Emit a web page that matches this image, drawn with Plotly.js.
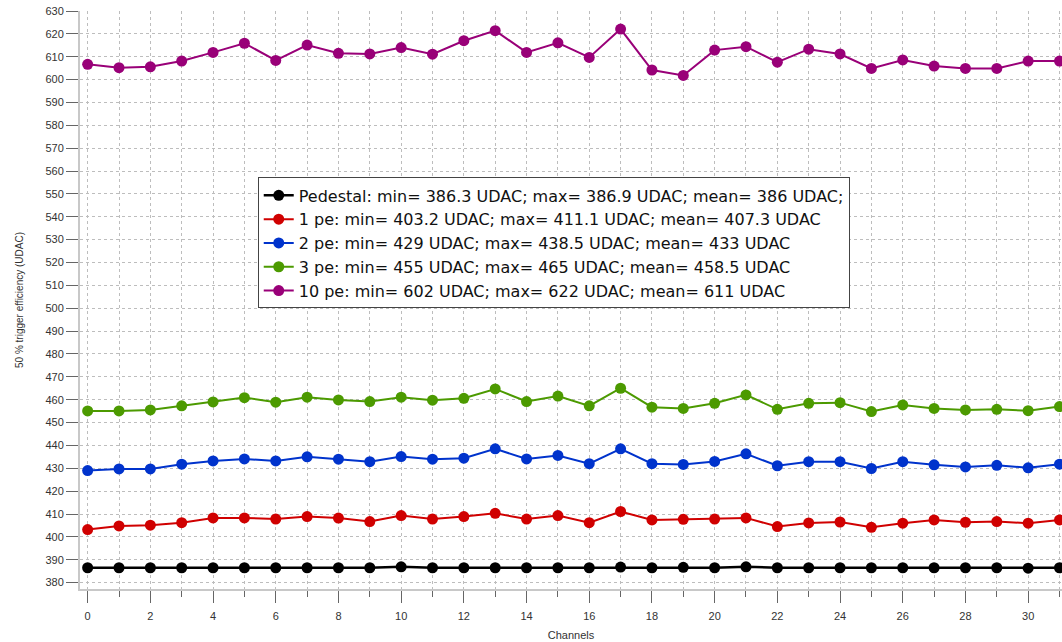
<!DOCTYPE html>
<html>
<head>
<meta charset="utf-8">
<script src="https://cdn.plot.ly/plotly-3.0.1.min.js"></script>
<style>
html,body{margin:0;padding:0;background:#fff;}
#chart{width:1062px;height:642px;}
</style>
</head>
<body>
<div id="chart"></div>
<script>
const channels = Array.from({length: 32}, (_, i) => i);

const seriesNames = [
  "Pedestal: min= 386.3 UDAC; max= 386.9 UDAC; mean= 386 UDAC;",
  "1 pe: min= 403.2 UDAC; max= 411.1 UDAC; mean= 407.3 UDAC",
  "2 pe: min= 429 UDAC; max= 438.5 UDAC; mean= 433 UDAC",
  "3 pe: min= 455 UDAC; max= 465 UDAC; mean= 458.5 UDAC",
  "10 pe: min= 602 UDAC; max= 622 UDAC; mean= 611 UDAC"
];

const pedestal = [386.5,386.5,386.5,386.5,386.5,386.5,386.5,386.5,386.5,386.5,386.9,386.5,386.5,386.5,386.5,386.5,386.5,386.8,386.5,386.7,386.5,386.9,386.5,386.5,386.5,386.5,386.5,386.5,386.5,386.5,386.3,386.5];
const pe1 = [403.2,404.8,405.1,406.2,408.3,408.3,407.8,408.9,408.2,406.7,409.3,407.8,408.9,410.3,407.8,409.3,406.2,411.1,407.4,407.7,407.8,408.3,404.5,406.1,406.5,404.2,406.0,407.4,406.4,406.7,406.0,407.4];
const pe2 = [429.0,429.7,429.7,431.8,433.2,434.1,433.2,435.0,434.0,432.9,435.1,434.0,434.4,438.5,434.1,435.6,432.0,438.5,432.0,431.7,433.0,436.3,431.1,432.9,432.9,429.9,432.9,431.5,430.6,431.3,430.2,431.8];
const pe3 = [455.1,455.1,455.5,457.3,459.0,460.9,458.9,461.1,459.9,459.2,461.1,459.8,460.6,464.7,459.2,461.6,457.3,465.0,456.7,456.2,458.4,462.1,455.8,458.4,458.7,454.8,457.7,456.2,455.5,455.8,455.2,457.0];
const pe10 = [606.7,605.2,605.6,608.1,611.9,615.9,608.4,615.1,611.5,611.2,614.0,611.1,617.0,621.4,611.9,616.1,609.7,622.1,604.2,601.8,612.9,614.4,607.6,613.3,611.2,604.9,608.6,605.9,604.9,604.9,608.1,608.1];

const seriesValues = [pedestal, pe1, pe2, pe3, pe10];
const seriesColors = ["#000000", "#d00000", "#0033cc", "#4c9a00", "#990078"];
const lineWidths = [2.5, 2, 2, 2, 2];

const traces = seriesValues.map((vals, i) => ({
  x: channels,
  y: vals,
  type: "scatter",
  mode: "lines+markers",
  name: seriesNames[i],
  line: {color: seriesColors[i], width: lineWidths[i]},
  marker: {color: seriesColors[i], size: 11}
}));

const layout = {
  width: 1062,
  height: 642,
  margin: {l: 80, r: 0, t: 11, b: 53},
  paper_bgcolor: "#ffffff",
  plot_bgcolor: "#ffffff",
  font: {family: "Liberation Sans, Arial, sans-serif", color: "#333"},
  showlegend: true,
  legend: {
    x: 0.181, y: 0.712, xanchor: "left", yanchor: "top",
    bgcolor: "#ffffff", bordercolor: "#444", borderwidth: 1,
    font: {size: 16, color: "#111", family: "DejaVu Sans, sans-serif"},
    tracegroupgap: 0, itemwidth: 30
  },
  xaxis: {
    range: [-0.244, 31.08],
    tickmode: "linear", tick0: 0, dtick: 2,
    ticks: "outside", ticklen: 12, tickcolor: "#666", tickwidth: 1,
    ticklabelstandoff: 4,
    showgrid: true, gridcolor: "#bdbdbd", griddash: "dot", gridwidth: 1,
    minor: {dtick: 1, ticks: "outside", ticklen: 6, tickcolor: "#666", showgrid: true, gridcolor: "#bdbdbd", griddash: "dot"},
    showline: true, linecolor: "#c8c8c8", linewidth: 2,
    zeroline: false,
    tickfont: {size: 11, color: "#333"},
    title: {text: "Channels", font: {size: 11, color: "#333"}, standoff: 10}
  },
  yaxis: {
    range: [377.2, 630],
    tickmode: "linear", tick0: 380, dtick: 10,
    ticks: "outside", ticklen: 12, tickcolor: "#666", tickwidth: 1,
    showgrid: true, gridcolor: "#bdbdbd", griddash: "dot", gridwidth: 1,
    showline: true, linecolor: "#c8c8c8", linewidth: 2,
    zeroline: false,
    tickfont: {size: 11, color: "#333"},
    title: {text: "50 % trigger efficiency (UDAC)", font: {size: 10, color: "#333"}, standoff: 20}
  }
};

Plotly.newPlot("chart", traces, layout, {displayModeBar: false, staticPlot: true});
</script>
</body>
</html>
